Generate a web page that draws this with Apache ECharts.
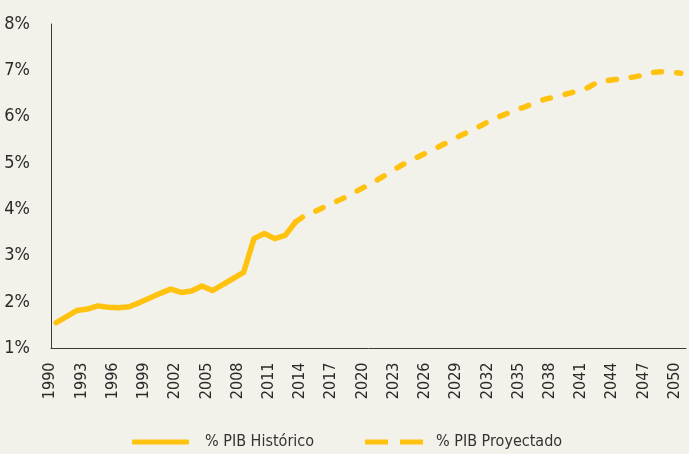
<!DOCTYPE html>
<html>
<head>
<meta charset="utf-8">
<script src="https://cdn.jsdelivr.net/npm/echarts@6/dist/echarts.min.js"></script>
<style>
html,body{margin:0;padding:0;background:#f2f1ea;}
#c{width:689px;height:454px;}
</style>
</head>
<body>
<div id="c"></div>
<script>
const years = [];
for (let y = 1990; y <= 2050; y++) years.push(String(y));

// % PIB Histórico, 1990–2013
const historico = [1.56, 1.69, 1.82, 1.85, 1.92, 1.89, 1.88, 1.90, 1.99, 2.09, 2.19, 2.28, 2.21, 2.24, 2.35, 2.25, 2.38, 2.51, 2.64, 3.37, 3.48, 3.37, 3.44, 3.73];
// % PIB Proyectado, 2013–2050
const proyectado = [3.73, 3.88, 3.97, 4.08, 4.18, 4.29, 4.41, 4.53, 4.66, 4.79, 4.93, 5.05, 5.16, 5.27, 5.38, 5.50, 5.61, 5.72, 5.83, 5.95, 6.04, 6.13, 6.21, 6.30, 6.38, 6.43, 6.49, 6.55, 6.62, 6.74, 6.78, 6.81, 6.84, 6.88, 6.94, 6.97, 6.96, 6.94];
const yTicks = [1, 2, 3, 4, 5, 6, 7, 8];
const serieNames = ['% PIB Histórico', '% PIB Proyectado'];

const histData = years.map((y, i) => i < historico.length ? historico[i] : null);
const projStart = 2013 - 1990;
const projData = years.map((y, i) => (i >= projStart && i - projStart < proyectado.length) ? proyectado[i - projStart] : null);

const FONT = '"Liberation Sans Narrow", "DejaVu Sans Condensed", "Roboto Condensed", "Noto Sans", sans-serif';
const COLOR = '#ffc20e';

const chart = echarts.init(document.getElementById('c'), null, {renderer: 'canvas'});
chart.setOption({
  backgroundColor: '#f2f1ea',
  animation: false,
  grid: {left: 51, right: 3, top: 24, bottom: 105.5},
  legend: [
    {
      data: [serieNames[0]], left: 127, top: 429,
      itemWidth: 57, itemHeight: 5, icon: 'roundRect',
      textStyle: {fontFamily: FONT, fontSize: 16, color: '#333', padding: [0, 0, 0, 11]}
    },
    {
      data: [serieNames[1]], left: 360, top: 429,
      itemWidth: 58, itemHeight: 5,
      icon: 'path://M0,0h23v5h-23z M35,0h23v5h-23z',
      textStyle: {fontFamily: FONT, fontSize: 16, color: '#333', padding: [0, 0, 0, 8]}
    }
  ],
  xAxis: {
    type: 'category',
    data: years,
    boundaryGap: true,
    axisLine: {lineStyle: {color: '#3a3a3a', width: 1}},
    axisTick: {show: false},
    axisLabel: {
      interval: 2, rotate: 90, margin: 14,
      fontFamily: FONT, fontSize: 16, color: '#2a2a2a',
      verticalAlign: 'bottom', lineHeight: 12
    }
  },
  yAxis: {
    type: 'value',
    min: yTicks[0], max: yTicks[yTicks.length - 1], interval: 1,
    axisLine: {show: true, lineStyle: {color: '#3a3a3a', width: 1}},
    axisTick: {show: false},
    splitLine: {show: false},
    axisLabel: {formatter: '{value}%', fontFamily: FONT, fontSize: 18, color: '#2a2a2a', margin: 21}
  },
  series: [
    {
      name: serieNames[0], type: 'line', data: histData,
      symbol: 'none', color: COLOR,
      lineStyle: {width: 5.5, color: COLOR, cap: 'round', join: 'round'}
    },
    {
      name: serieNames[1], type: 'line', data: projData, smooth: 0.3,
      symbol: 'none', color: COLOR,
      lineStyle: {width: 5.5, color: COLOR, type: [8, 15], cap: 'round', join: 'round'}
    }
  ]
});
</script>
</body>
</html>
